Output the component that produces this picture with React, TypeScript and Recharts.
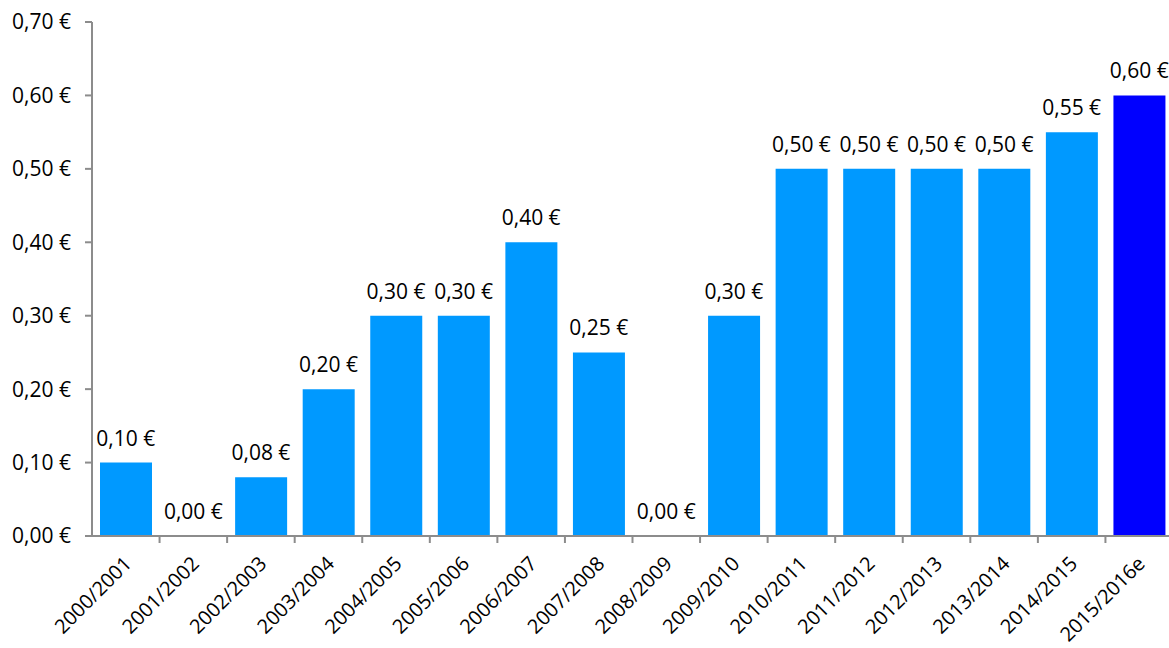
import React from 'react';
import { ComposedChart, Bar, Line, XAxis, YAxis, Cell, LabelList } from 'recharts';

// Dividende par saison (en €)
const seasons = [
  '2000/2001', '2001/2002', '2002/2003', '2003/2004', '2004/2005', '2005/2006',
  '2006/2007', '2007/2008', '2008/2009', '2009/2010', '2010/2011', '2011/2012',
  '2012/2013', '2013/2014', '2014/2015', '2015/2016e'
];
const dividends = [0.1, 0, 0.08, 0.2, 0.3, 0.3, 0.4, 0.25, 0, 0.3, 0.5, 0.5, 0.5, 0.5, 0.55, 0.6];
const estimated = [false, false, false, false, false, false, false, false, false, false, false, false, false, false, false, true];
const yTicks = [0, 0.1, 0.2, 0.3, 0.4, 0.5, 0.6, 0.7];

const data = seasons.map((s, i) => ({ season: s, value: dividends[i], est: estimated[i] }));

const FONT = '"Open Sans", sans-serif';
const FS = 21;
const AXIS_COLOR = '#8c8c8c';
const euro = (v: number) => v.toFixed(2).replace('.', ',') + ' €';

const CHART_W = 1180;
const MARGIN = { top: 22, right: 7, left: 10, bottom: 12 };
const Y_W = 82;
const bandW = (CHART_W - MARGIN.left - MARGIN.right - Y_W) / seasons.length;

// x tick: label rotated -45°, tick mark on the category boundary (Excel style)
const SeasonTick = (props: any) => {
  const { x, y, payload } = props;
  const axisY = y - 2;
  const tx = x + 7;
  const ty = y + 27;
  return (
    <g>
      <line x1={x + bandW / 2} y1={axisY} x2={x + bandW / 2} y2={axisY + 7} stroke={AXIS_COLOR} strokeWidth={2} />
      <text
        x={tx}
        y={ty}
        textAnchor="end"
        transform={`rotate(-45, ${tx}, ${ty})`}
        fontFamily={FONT}
        fontSize={20}
        fill="#000"
      >
        {payload.value}
      </text>
    </g>
  );
};

export default function App() {
  return (
    <div style={{ position: 'absolute', left: 0, top: 0, width: 1169, height: 648, overflow: 'hidden', background: '#fff' }}>
      <ComposedChart width={CHART_W} height={648} data={data} margin={MARGIN} barSize={52}>
        <XAxis
          dataKey="season"
          height={100}
          interval={0}
          tickLine={false}
          tickSize={0}
          tickMargin={2}
          axisLine={{ stroke: AXIS_COLOR, strokeWidth: 2 }}
          tick={<SeasonTick />}
        />
        <YAxis
          width={Y_W}
          domain={[0, 0.7]}
          ticks={yTicks}
          interval={0}
          tickFormatter={euro}
          tickSize={7}
          tickMargin={14}
          axisLine={{ stroke: AXIS_COLOR, strokeWidth: 2 }}
          tickLine={{ stroke: AXIS_COLOR, strokeWidth: 2 }}
          tick={{ fill: '#000', fontSize: FS, fontFamily: FONT }}
        />
        <Bar dataKey="value" isAnimationActive={false}>
          {data.map((d, i) => (
            <Cell key={`c-${i}`} fill={d.est ? '#0000ff' : '#0099ff'} />
          ))}
        </Bar>
        {/* invisible series carrying the value labels, so the 0,00 € bars get one too */}
        <Line dataKey="value" stroke="none" dot={false} activeDot={false} isAnimationActive={false}>
          <LabelList
            dataKey="value"
            position="top"
            offset={17}
            formatter={(v: any) => euro(Number(v))}
            style={{ fill: '#000', fontSize: FS, fontFamily: FONT }}
          />
        </Line>
      </ComposedChart>
    </div>
  );
}
